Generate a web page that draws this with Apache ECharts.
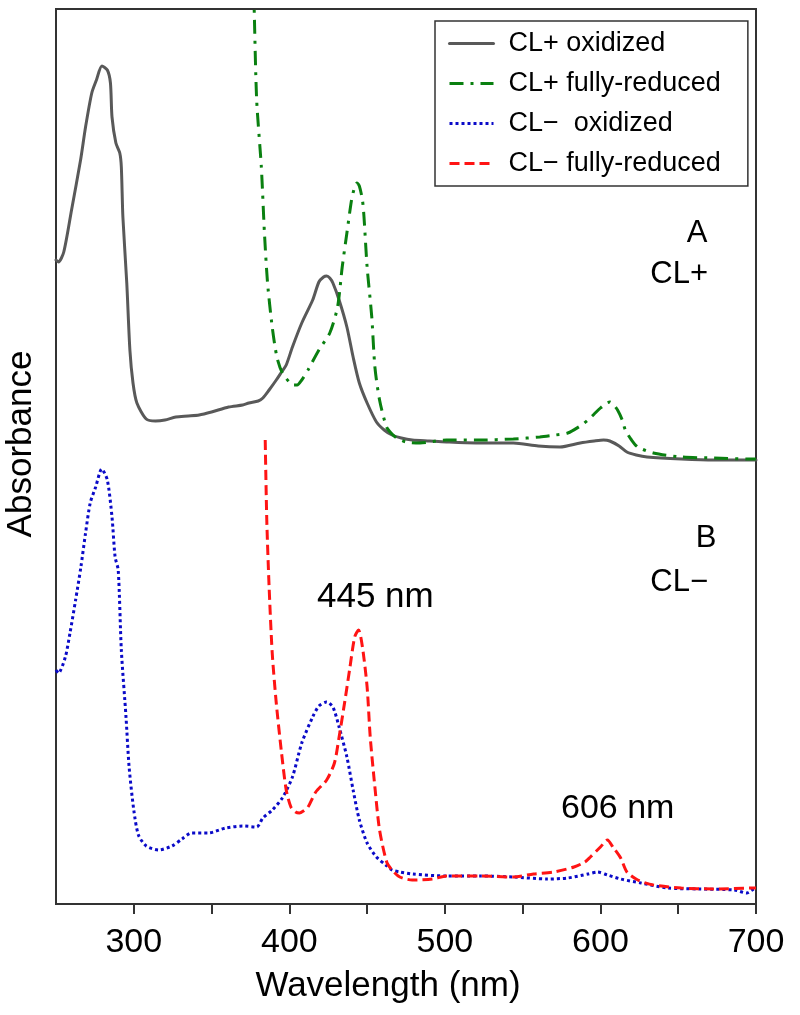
<!DOCTYPE html>
<html>
<head>
<meta charset="utf-8">
<script src="https://cdn.jsdelivr.net/npm/echarts@6/dist/echarts.min.js"></script>
<style>
html,body{margin:0;padding:0;background:#fff;}
#chart{width:800px;height:1015px;}
</style>
</head>
<body>
<div id="chart"></div>
<script>
// Wavelength (nm) and absorbance (arbitrary units, stacked offsets)
const clPlusOxWl = [250,251.6,255,260,265.8,269,273,276,279.5,283,285,286,288.5,291,292,293,295.5,297.5,299.5,302,308,314,320,327,335,342,350,361,370,374,380,383,387,391.6,395,398,402,408,415,419,422,424,426,428,432,437,441,445,450,456,461,466,472,479,490,501,520,544,560,574,587,596,602,606,612,617,623,630,652,673,699,700];
const clPlusOxAbs = [6.44,6.42,6.52,6.94,7.44,7.77,8.11,8.24,8.38,8.34,8.21,7.87,7.61,7.51,7.37,6.87,6.21,5.54,5.21,5.01,4.85,4.83,4.84,4.87,4.88,4.89,4.92,4.97,4.99,5.01,5.03,5.06,5.14,5.24,5.32,5.39,5.57,5.81,6.04,6.22,6.27,6.28,6.26,6.21,6.04,5.77,5.47,5.21,5.01,4.82,4.74,4.69,4.66,4.64,4.63,4.62,4.61,4.61,4.58,4.57,4.61,4.63,4.64,4.63,4.58,4.52,4.49,4.47,4.45,4.44,4.44,4.44];

const clPlusRedWl = [376.5,377.4,379,382,384,386,389,392,395.5,400,403,405,408,412,419,426,431,434,437,440,442,443.5,445,447,448,450,453,455,458,462.5,466,469,475,484,501,522,544,561,571,579,587,592,596,600,604,606,608,611,614,616,620,624,634,652,673,697,700];
const clPlusRedAbs = [9.46,8.95,8.04,7.37,6.71,6.21,5.77,5.47,5.31,5.22,5.19,5.19,5.24,5.34,5.54,5.71,5.97,6.37,6.71,7.04,7.17,7.21,7.18,7.04,6.87,6.37,5.87,5.37,5.04,4.77,4.70,4.66,4.62,4.61,4.64,4.64,4.65,4.67,4.69,4.71,4.78,4.84,4.90,4.96,5.01,5.02,5.00,4.94,4.84,4.74,4.64,4.57,4.51,4.47,4.46,4.45,4.45];

const clMinusOxWl = [250,251.6,256,259,262.6,266,269,272,275.5,279.4,283,286,288,290,292,295,297,300,303,308,316,324.5,331,337,348,359,370,379,383,389,395.5,402,408,415,419,424,428,432,437,441,445,450,456,462,466,471,479,501,523,544,566,579,592,598,604.5,613,626,643,664.5,686,694,699,700];
const clMinusOxAbs = [2.34,2.31,2.47,2.71,3.04,3.37,3.71,4.01,4.17,4.35,4.24,3.87,3.47,3.34,2.54,1.87,1.37,0.94,0.69,0.58,0.54,0.58,0.65,0.71,0.71,0.76,0.78,0.77,0.86,0.94,1.06,1.27,1.61,1.87,1.98,2.02,1.97,1.77,1.47,1.14,0.84,0.61,0.47,0.39,0.34,0.32,0.30,0.28,0.28,0.27,0.25,0.26,0.30,0.32,0.29,0.25,0.21,0.16,0.15,0.14,0.11,0.15,0.15];

const clMinusRedWl = [384.5,385.5,387,389,391.6,395,398,401,404,406.5,409,412,417,424,429,432,435.5,439,442,444.5,447,450,452,455,458,462.6,466,471,479,492,501,523,544,557,570,583,590,593.5,600,604.5,608,613,617,624,634,652,673,699,700];
const clMinusRedAbs = [4.64,3.84,3.17,2.51,2.01,1.51,1.14,0.97,0.92,0.91,0.93,0.97,1.12,1.24,1.41,1.67,2.01,2.37,2.67,2.74,2.57,2.17,1.67,1.17,0.74,0.42,0.34,0.27,0.24,0.25,0.28,0.28,0.27,0.30,0.32,0.37,0.42,0.47,0.57,0.64,0.57,0.46,0.32,0.24,0.19,0.16,0.15,0.16,0.16];

const seriesNames = ['CL+ oxidized', 'CL+ fully-reduced', 'CL\u2212  oxidized', 'CL\u2212 fully-reduced'];
const xTicks = [300, 350, 400, 450, 500, 550, 600, 650, 700];
const xLabels = [300, 400, 500, 600, 700];

const FONT = '"Liberation Sans", Arial, Helvetica, sans-serif';
const pair = (xs, ys) => xs.map((x, i) => [x, ys[i]]);

const chart = echarts.init(document.getElementById('chart'), null, {renderer: 'canvas'});
const mkSeries = (name, xs, ys, color, type, cap) => ({
  name, type: 'line', data: pair(xs, ys), showSymbol: false, symbol: 'none',
  smooth: 0.25, clip: true, animation: false,
  lineStyle: {color, width: 3, type, cap: cap || 'butt'},
  itemStyle: {color}
});

chart.setOption({
  animation: false,
  backgroundColor: '#fff',
  grid: {left: 56, right: 44, top: 9, bottom: 111, show: true, borderColor: '#333', borderWidth: 2, backgroundColor: 'transparent'},
  xAxis: {
    type: 'value', min: 250, max: 700,
    axisLine: {show: true, onZero: false, lineStyle: {color: '#333', width: 2}},
    axisTick: {show: true, inside: false, length: 10, customValues: xTicks, lineStyle: {color: '#333', width: 2}},
    axisLabel: {show: true, customValues: xLabels, margin: 22, color: '#000', fontSize: 34, fontFamily: FONT},
    splitLine: {show: false}
  },
  yAxis: {
    type: 'value', min: 0, max: 8.95,
    axisLine: {show: true, lineStyle: {color: '#333', width: 2}},
    axisTick: {show: false}, axisLabel: {show: false}, splitLine: {show: false}
  },
  legend: {
    show: true, orient: 'vertical', left: 435, top: 21,
    data: seriesNames,
    itemWidth: 44, itemHeight: 14, itemGap: 13,
    padding: [9, 27, 9, 13],
    borderColor: '#333', borderWidth: 1.5, backgroundColor: '#fff',
    itemStyle: {color: 'transparent', borderColor: 'transparent', borderWidth: 0, opacity: 0},
    lineStyle: {width: 3},
    textStyle: {fontSize: 27, fontFamily: FONT, color: '#000', padding: [0, 0, 0, 10]},
    selectedMode: false
  },
  graphic: [
    {type: 'text', x: 21, y: 444, rotation: Math.PI / 2, style: {text: 'Absorbance', font: '35px ' + FONT, fill: '#000', align: 'center', verticalAlign: 'middle'}},
    {type: 'text', x: 388, y: 986, style: {text: 'Wavelength (nm)', font: '35px ' + FONT, fill: '#000', align: 'center', verticalAlign: 'middle'}},
    {type: 'text', x: 697, y: 233, style: {text: 'A', font: '31px ' + FONT, fill: '#000', align: 'center', verticalAlign: 'middle'}},
    {type: 'text', x: 708, y: 274, style: {text: 'CL+', font: '31px ' + FONT, fill: '#000', align: 'right', verticalAlign: 'middle'}},
    {type: 'text', x: 706, y: 538, style: {text: 'B', font: '31px ' + FONT, fill: '#000', align: 'center', verticalAlign: 'middle'}},
    {type: 'text', x: 708, y: 582, style: {text: 'CL\u2212', font: '31px ' + FONT, fill: '#000', align: 'right', verticalAlign: 'middle'}},
    {type: 'text', x: 317, y: 597, style: {text: '445 nm', font: '35px ' + FONT, fill: '#000', align: 'left', verticalAlign: 'middle'}},
    {type: 'text', x: 561, y: 809, style: {text: '606 nm', font: '34px ' + FONT, fill: '#000', align: 'left', verticalAlign: 'middle'}}
  ],
  series: [
    mkSeries(seriesNames[0], clPlusOxWl, clPlusOxAbs, '#595959', 'solid', 'round'),
    mkSeries(seriesNames[1], clPlusRedWl, clPlusRedAbs, '#0a8010', [14, 7, 3, 7]),
    mkSeries(seriesNames[2], clMinusOxWl, clMinusOxAbs, '#0a0ac8', [3, 3]),
    mkSeries(seriesNames[3], clMinusRedWl, clMinusRedAbs, '#ff1414', [10, 5])
  ]
});
</script>
</body>
</html>
